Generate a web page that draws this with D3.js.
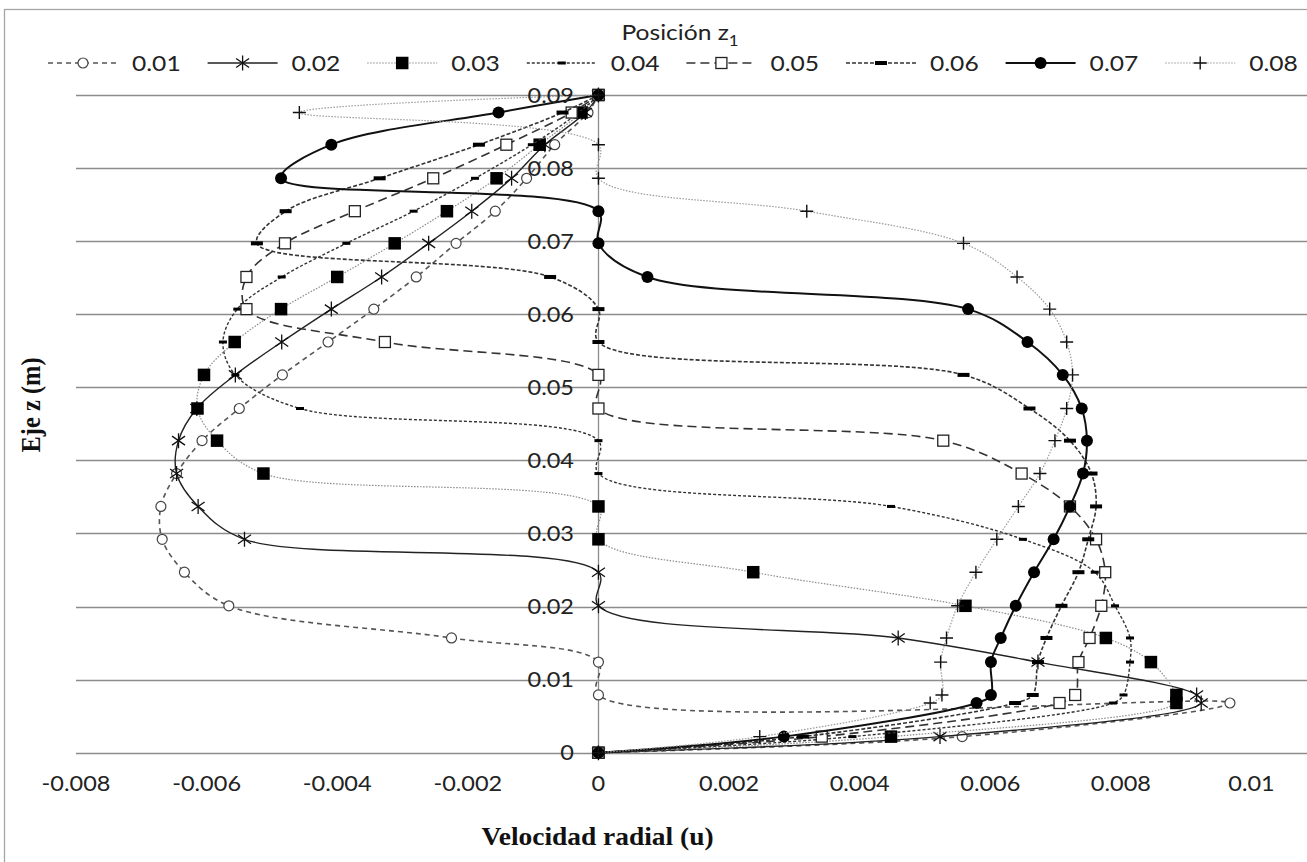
<!DOCTYPE html>
<html>
<head>
<meta charset="utf-8">
<script src="https://cdn.jsdelivr.net/npm/d3@7"></script>
<style>
  body { margin: 0; background: #fff; }
  .tick-label { font-family: Lato, "Open Sans", sans-serif; font-size: 21px; fill: #222; }
  .legend-label { font-family: Lato, "Open Sans", sans-serif; font-size: 22px; fill: #222; }
  .axis-title { font-family: "Liberation Serif", "Times New Roman", serif; font-weight: bold; font-size: 24.5px; fill: #111; }
</style>
</head>
<body>
<div class="chart"></div>
<script>
(function() {
  var width = 1307, height = 862;

  // z levels (m) shared by every profile, bottom to top
  var zLevels = [0, 0.0022, 0.0068, 0.0079, 0.0124, 0.0157, 0.0201, 0.0247, 0.0292, 0.0337, 0.0382, 0.0427,
    0.0471, 0.0517, 0.0562, 0.0607, 0.0651, 0.0697, 0.0741, 0.0786, 0.0832, 0.0876, 0.09];

  // radial velocity for each position z1
  var u001 = [0, 0.00557, 0.00967, 0, 0, -0.00225, -0.00566, -0.00634, -0.00668, -0.0067, -0.00646, -0.00607,
    -0.0055, -0.00484, -0.00414, -0.00344, -0.00279, -0.00218, -0.00158, -0.0011, -0.00067, -0.00016, 0];
  var u002 = [0, 0.00523, 0.00923, 0.00916, 0.00673, 0.00459, 0, 0, -0.00542, -0.00613, -0.00646, -0.00643,
    -0.00615, -0.00556, -0.00485, -0.00409, -0.00332, -0.0026, -0.00194, -0.00133, -0.00082, -0.0002, 0];
  var u003 = [0, 0.00448, 0.00885, 0.00885, 0.00846, 0.00777, 0.00562, 0.00237, 0, 0, -0.00513, -0.00584,
    -0.00614, -0.00604, -0.00557, -0.00486, -0.004, -0.00312, -0.00232, -0.00156, -0.0009, -0.00026, 0];
  var u004 = [0, 0.00389, 0.00788, 0.00804, 0.00814, 0.00814, 0.00791, 0.0076, 0.0065, 0.00448, 0, 0,
    -0.00457, -0.00556, -0.00575, -0.00553, -0.00485, -0.00386, -0.00283, -0.00189, -0.00102, -0.0003, 0];
  var u005 = [0, 0.00342, 0.00706, 0.0073, 0.00735, 0.00752, 0.0077, 0.00776, 0.00762, 0.00722, 0.00648, 0.00528,
    0, 0, -0.00327, -0.00539, -0.00539, -0.0048, -0.00373, -0.00253, -0.00141, -0.00041, 0];
  var u006 = [0, 0.00313, 0.00638, 0.00665, 0.00673, 0.00686, 0.00709, 0.00735, 0.0075, 0.00762, 0.00755, 0.00722,
    0.0066, 0.00559, 0, 0, -0.00074, -0.00523, -0.00479, -0.00335, -0.00183, -0.00055, 0];
  var u007 = [0, 0.00284, 0.00579, 0.00601, 0.00601, 0.00616, 0.00639, 0.00667, 0.00697, 0.00722, 0.00742, 0.00748,
    0.0074, 0.00711, 0.00657, 0.00566, 0.00075, 0, 0, -0.00486, -0.00409, -0.00153, 0];
  var u008 = [0, 0.00247, 0.00508, 0.00526, 0.00524, 0.00533, 0.0055, 0.00578, 0.0061, 0.00643, 0.00676, 0.00699,
    0.00717, 0.00726, 0.00717, 0.00691, 0.00641, 0.00559, 0.00319, 0, 0, -0.00458, 0];

  var seriesNames = ["0.01", "0.02", "0.03", "0.04", "0.05", "0.06", "0.07", "0.08"];
  var seriesValues = [u001, u002, u003, u004, u005, u006, u007, u008];
  var xTicks = [-0.008, -0.006, -0.004, -0.002, 0, 0.002, 0.004, 0.006, 0.008, 0.01];
  var yTicks = [0, 0.01, 0.02, 0.03, 0.04, 0.05, 0.06, 0.07, 0.08, 0.09];

  // line + marker look of each series (same order as seriesNames)
  var styles = [
    {stroke: "#555", w: 1.6, dash: "5,4", marker: "circle"},
    {stroke: "#222", w: 1.4, dash: null, marker: "asterisk"},
    {stroke: "#8a8a8a", w: 1.2, dash: "1.5,1.5", marker: "square"},
    {stroke: "#333", w: 1.4, dash: "3,2", marker: "dashS"},
    {stroke: "#333", w: 1.6, dash: "9,5", marker: "openSquare"},
    {stroke: "#333", w: 1.6, dash: "4,2", marker: "dashL"},
    {stroke: "#111", w: 2, dash: null, marker: "dot"},
    {stroke: "#9a9a9a", w: 1.2, dash: "1.5,1.5", marker: "plus"}
  ];

  var stretch = 1.12;   // the source text is a little wide
  function at(px, py) { return "translate(" + px + "," + py + ") scale(" + stretch + ",1)" }
  // plain hyphen for negatives, like the source
  function fmt(d) { return String(+d.toFixed(3)) }

  var x = d3.scaleLinear().domain([-0.008, 0.01]).range([76, 1251.5]);
  var y = d3.scaleLinear().domain([0, 0.09]).range([752.7, 95]);

  var svg = d3.select(".chart").append("svg")
    .attr("width", width)
    .attr("height", height);

  // chart border
  svg.append("rect")
    .attr("x", 4.5).attr("y", 9.5)
    .attr("width", width + 20).attr("height", height + 20)
    .attr("fill", "none").attr("stroke", "#a6a6a6").attr("stroke-width", 1.3);

  // horizontal gridlines
  svg.append("g").selectAll("line")
    .data(yTicks).enter()
    .append("line")
      .attr("x1", x(-0.008))
      .attr("x2", width)
      .attr("y1", function(d) { return Math.round(y(d)) + 0.5 })
      .attr("y2", function(d) { return Math.round(y(d)) + 0.5 })
      .attr("stroke", "#8c8c8c")
      .attr("stroke-width", 1.3);

  // vertical axis at x = 0
  svg.append("line")
    .attr("x1", Math.round(x(0)) + 0.5).attr("x2", Math.round(x(0)) + 0.5)
    .attr("y1", y(0.09)).attr("y2", y(0))
    .attr("stroke", "#8c8c8c").attr("stroke-width", 1.3);

  function drawMarker(sel, type) {
    if (type == "circle") {
      sel.append("circle").attr("r", 5).attr("fill", "#fff").attr("stroke", "#444").attr("stroke-width", 1.2);
    } else if (type == "asterisk") {
      sel.append("path").attr("d", "M0,-7.5V7.5M-6.5,-4.5L6.5,4.5M-6.5,4.5L6.5,-4.5")
        .attr("stroke", "#111").attr("stroke-width", 1.3).attr("fill", "none");
    } else if (type == "square") {
      sel.append("rect").attr("x", -6.25).attr("y", -6.25).attr("width", 12.5).attr("height", 12.5).attr("fill", "#000");
    } else if (type == "dashS") {
      sel.append("rect").attr("x", -4).attr("y", -1.5).attr("width", 8).attr("height", 3).attr("fill", "#000");
    } else if (type == "openSquare") {
      sel.append("rect").attr("x", -5.5).attr("y", -5.5).attr("width", 11).attr("height", 11)
        .attr("fill", "#fff").attr("stroke", "#222").attr("stroke-width", 1.3);
    } else if (type == "dashL") {
      sel.append("rect").attr("x", -6).attr("y", -2).attr("width", 12).attr("height", 4).attr("fill", "#000");
    } else if (type == "dot") {
      sel.append("circle").attr("r", 6).attr("fill", "#000");
    } else if (type == "plus") {
      sel.append("path").attr("d", "M-6.5,0H6.5M0,-6.5V6.5")
        .attr("stroke", "#111").attr("stroke-width", 1.4).attr("fill", "none");
    }
  }

  var line = d3.line()
    .x(function(d) { return x(d.u) })
    .y(function(d) { return y(d.z) })
    .curve(d3.curveCatmullRom.alpha(0.5));

  seriesValues.forEach(function(vals, i) {
    var st = styles[i];
    var pts = vals.map(function(v, k) { return {u: v, z: zLevels[k]} });
    var g = svg.append("g").attr("class", "series s" + i);
    g.append("path")
      .attr("d", line(pts))
      .attr("fill", "none")
      .attr("stroke", st.stroke)
      .attr("stroke-width", st.w)
      .attr("stroke-dasharray", st.dash);
    g.selectAll("g.m")
      .data(pts).enter()
      .append("g").attr("class", "m")
      .attr("transform", function(d) { return "translate(" + x(d.u) + "," + y(d.z) + ")" })
      .each(function() { drawMarker(d3.select(this), st.marker) });
  });

  // tick labels
  svg.append("g").selectAll("text")
    .data(xTicks).enter()
    .append("text")
      .attr("class", "tick-label")
      .attr("transform", function(d) { return at(x(d), 790.5) })
      .attr("text-anchor", "middle")
      .text(fmt);

  svg.append("g").selectAll("text")
    .data(yTicks).enter()
    .append("text")
      .attr("class", "tick-label")
      .attr("transform", function(d) { return at(574, y(d)) })
      .attr("dy", "0.36em")
      .attr("text-anchor", "end")
      .text(fmt);

  // axis titles
  svg.append("text")
    .attr("class", "axis-title")
    .attr("transform", at(597.5, 845))
    .attr("text-anchor", "middle")
    .text("Velocidad radial (u)");

  svg.append("text")
    .attr("class", "axis-title")
    .attr("transform", "translate(40,405) scale(" + stretch + ",1) rotate(-90)")
    .attr("text-anchor", "middle")
    .text("Eje z (m)");

  // legend
  var legend = svg.append("g").attr("class", "legend");
  var lt = legend.append("text")
    .attr("class", "legend-label")
    .attr("transform", at(680, 40))
    .attr("text-anchor", "middle");
  lt.append("tspan").text("Posición z");
  lt.append("tspan").attr("dy", 6).attr("font-size", 15).text("1");

  var legendX0 = 48, legendStep = 159.6, legendY = 63, sampleLen = 70;
  seriesNames.forEach(function(name, i) {
    var st = styles[i];
    var lx = legendX0 + i * legendStep;
    var item = legend.append("g");
    item.append("line")
      .attr("x1", lx).attr("x2", lx + sampleLen)
      .attr("y1", legendY).attr("y2", legendY)
      .attr("stroke", st.stroke)
      .attr("stroke-width", st.w)
      .attr("stroke-dasharray", st.dash);
    drawMarker(item.append("g").attr("transform", "translate(" + (lx + sampleLen / 2) + "," + legendY + ")"), st.marker);
    item.append("text")
      .attr("class", "legend-label")
      .attr("transform", at(lx + sampleLen + 14, legendY))
      .attr("dy", "0.36em")
      .text(name);
  });
})();
</script>
</body>
</html>
